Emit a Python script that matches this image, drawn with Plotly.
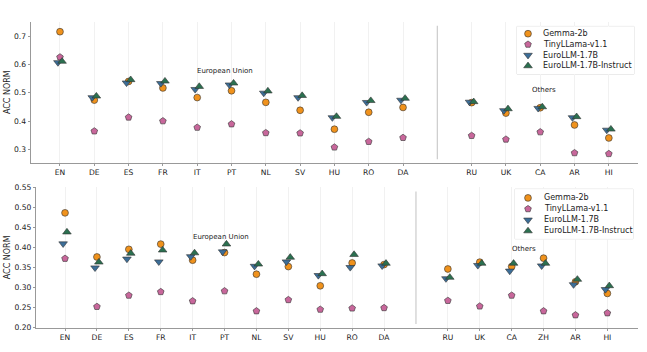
import plotly.graph_objects as go

# ---------------- data ----------------
series = ["Gemma-2b", "TinyLLama-v1.1", "EuroLLM-1.7B", "EuroLLM-1.7B-Instruct"]

top_eu = ["EN", "DE", "ES", "FR", "IT", "PT", "NL", "SV", "HU", "RO", "DA"]
top_others = ["RU", "UK", "CA", "AR", "HI"]
top_gemma = [0.716, 0.474, 0.540, 0.517, 0.483, 0.507, 0.466, 0.438, 0.371, 0.431, 0.448,
             0.465, 0.428, 0.447, 0.386, 0.340]
top_tiny = [0.626, 0.364, 0.413, 0.400, 0.377, 0.389, 0.358, 0.357, 0.307, 0.327, 0.341,
            0.348, 0.335, 0.361, 0.287, 0.284]
top_euro = [0.607, 0.483, 0.535, 0.533, 0.512, 0.528, 0.499, 0.483, 0.412, 0.466, 0.474,
            0.467, 0.437, 0.445, 0.412, 0.368]
top_instr = [0.611, 0.488, 0.546, 0.541, 0.522, 0.534, 0.506, 0.490, 0.416, 0.472, 0.480,
             0.468, 0.443, 0.450, 0.415, 0.371]

bot_eu = ["EN", "DE", "ES", "FR", "IT", "PT", "NL", "SV", "HU", "RO", "DA"]
bot_others = ["RU", "UK", "CA", "ZH", "AR", "HI"]
bot_gemma = [0.486, 0.376, 0.395, 0.408, 0.368, 0.387, 0.333, 0.352, 0.304, 0.361, 0.357,
             0.346, 0.363, 0.352, 0.373, 0.314, 0.285]
bot_tiny = [0.372, 0.252, 0.280, 0.289, 0.266, 0.291, 0.241, 0.269, 0.245, 0.248, 0.249,
            0.267, 0.253, 0.280, 0.241, 0.231, 0.236]
bot_euro = [0.409, 0.349, 0.371, 0.364, 0.377, 0.389, 0.353, 0.364, 0.330, 0.350, 0.354,
            0.322, 0.355, 0.341, 0.354, 0.307, 0.295]
bot_instr = [0.438, 0.363, 0.385, 0.393, 0.386, 0.408, 0.358, 0.375, 0.334, 0.382, 0.360,
             0.325, 0.360, 0.360, 0.360, 0.320, 0.304]

top_ticks = [0.3, 0.4, 0.5, 0.6, 0.7]
bot_ticks = [0.20, 0.25, 0.30, 0.35, 0.40, 0.45, 0.50, 0.55]

# ---------------- styles ----------------
colors = ["#F0921C", "#C8679B", "#3C6E98", "#2B7050"]
symbols = ["circle", "pentagon", "triangle-down", "triangle-up"]
sizes = [6.8, 7, 7.5, 7.5]
dodge = [0.0, 0.0, -0.06, 0.06]
FONT = "DejaVu Sans"
W, H = 647, 352

fig = go.Figure()


def positions(eu, others):
    xs = list(range(len(eu))) + [len(eu) + 1 + i for i in range(len(others))]
    return xs, eu + others


def add_panel(xa, ya, eu, others, vals):
    xs, labels = positions(eu, others)
    for k, name in enumerate(series):
        fig.add_trace(go.Scatter(
            x=[x + dodge[k] for x in xs], y=vals[k], mode="markers", name=name,
            showlegend=False, xaxis=xa, yaxis=ya,
            marker=dict(symbol=symbols[k], color=colors[k], size=sizes[k],
                        line=dict(color="#333333", width=0.6)),
        ))
    return xs, labels


top_x, top_lbl = add_panel("x", "y", top_eu, top_others, [top_gemma, top_tiny, top_euro, top_instr])
bot_x, bot_lbl = add_panel("x2", "y2", bot_eu, bot_others, [bot_gemma, bot_tiny, bot_euro, bot_instr])

axis_common = dict(showline=True, linecolor="#999999", linewidth=1.2, ticks="outside",
                   ticklen=2, tickcolor="#999999", zeroline=False,
                   tickfont=dict(family=FONT, size=7.6, color="#222222"))
ytitle = dict(text="ACC NORM", font=dict(family=FONT, size=8, color="#222222"), standoff=2)

fig.update_layout(
    xaxis=dict(domain=[30.7 / W, 638 / W], range=[-0.854, 16.85], tickvals=top_x, ticktext=top_lbl,
               showgrid=True, gridcolor="#F1F1F1", gridwidth=1, anchor="y", **axis_common),
    yaxis=dict(domain=[1 - 163 / H, 1 - 18 / H], range=[0.252, 0.752], tickvals=top_ticks,
               tickformat=".1f", showgrid=False, anchor="x", title=ytitle, **axis_common),
    xaxis2=dict(domain=[36 / W, 638 / W], range=[-0.91, 17.96], tickvals=bot_x, ticktext=bot_lbl,
                showgrid=True, gridcolor="#F1F1F1", gridwidth=1, anchor="y2", **axis_common),
    yaxis2=dict(domain=[1 - 332 / H, 1 - 188 / H], range=[0.2, 0.55], tickvals=bot_ticks,
                tickformat=".2f", showgrid=False, anchor="x2", title=ytitle, **axis_common),
)

# separators between groups
for xr, yr, n in [("x", "y", len(top_eu)), ("x2", "y2", len(bot_eu))]:
    fig.add_shape(type="line", xref=xr, yref=yr + " domain", x0=n, x1=n, y0=0.025, y1=0.97,
                  line=dict(color="#CCCCCC", width=1.2))

# group labels
fig.add_annotation(xref="x", yref="y", x=4.8, y=0.578, text="European Union", showarrow=False,
                   font=dict(family=FONT, size=7, color="#222222"))
fig.add_annotation(xref="x", yref="y", x=14.1, y=0.508, text="Others", showarrow=False,
                   font=dict(family=FONT, size=7, color="#222222"))
fig.add_annotation(xref="x2", yref="y2", x=4.9, y=0.427, text="European Union", showarrow=False,
                   font=dict(family=FONT, size=7, color="#222222"))
fig.add_annotation(xref="x2", yref="y2", x=14.4, y=0.396, text="Others", showarrow=False,
                   font=dict(family=FONT, size=7, color="#222222"))


# manual legends (compact, as in reference)
def add_legend(xa, ya, box, row0, row_h, mk_x, tx_x):
    x0, x1, y0, y1 = box
    bw, bh = x1 - x0, y1 - y0
    fig.add_shape(type="rect", xref="paper", yref="paper", x0=x0 / W, x1=x1 / W,
                  y0=1 - y1 / H, y1=1 - y0 / H, fillcolor="white",
                  line=dict(color="#DDDDDD", width=1), layer="below")
    rows = list(range(len(series)))
    for k, name in enumerate(series):
        fig.add_trace(go.Scatter(
            x=[mk_x], y=[rows[k]], mode="markers", showlegend=False, xaxis=xa, yaxis=ya,
            hoverinfo="skip",
            marker=dict(symbol=symbols[k], color=colors[k], size=sizes[k],
                        line=dict(color="#333333", width=0.6)),
        ))
        fig.add_annotation(xref=xa, yref=ya, x=tx_x, y=rows[k], text=name, showarrow=False,
                           xanchor="left", font=dict(family=FONT, size=8, color="#222222"))
    top = -row0 / row_h
    bottom = top + bh / row_h
    axn = xa.replace("x", "xaxis")
    ayn = ya.replace("y", "yaxis")
    fig.update_layout(**{
        axn: dict(domain=[x0 / W, x1 / W], range=[0, bw], visible=False, anchor=ya),
        ayn: dict(domain=[1 - y1 / H, 1 - y0 / H], range=[bottom, top], visible=False, anchor=xa),
    })


add_legend("x3", "y3", (517, 634, 23, 72), 7.5, 11.0, 11, 24)
add_legend("x4", "y4", (515, 633, 190, 241), 9.0, 11.3, 13, 27)

fig.update_layout(width=W, height=H, margin=dict(l=0, r=0, t=0, b=0),
                  paper_bgcolor="white", plot_bgcolor="white",
                  font=dict(family=FONT, size=8, color="#222222"))

fig.write_html("out.html")
